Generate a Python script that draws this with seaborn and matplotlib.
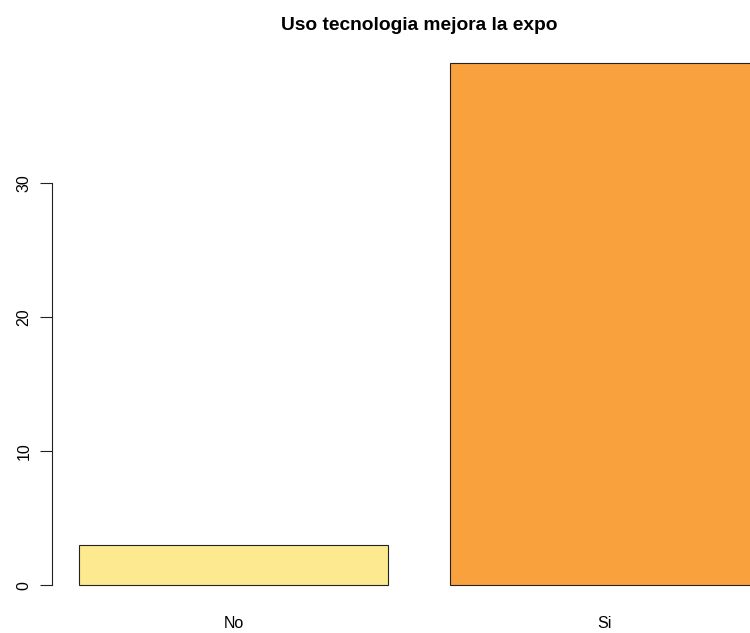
import matplotlib
matplotlib.use("Agg")
import matplotlib.pyplot as plt
import seaborn as sns
import pandas as pd

categories = ["No", "Si"]
counts = [3, 39]
bar_colors = ["#FDE98F", "#F9A23D"]
title = "Uso tecnologia mejora la expo"
y_ticks = [0, 10, 20, 30]

sns.set_style("white")
plt.rcParams["font.family"] = ["Liberation Sans", "DejaVu Sans"]
plt.rcParams["text.color"] = "black"
plt.rcParams["xtick.color"] = "black"
plt.rcParams["ytick.color"] = "black"

df = pd.DataFrame({"respuesta": categories, "n": counts})

fig = plt.figure(figsize=(7.5, 6.33), dpi=100)
ax = fig.add_axes([0.0689, 0.042, 0.979, 0.8923])

sns.barplot(data=df, x="respuesta", y="n", hue="respuesta",
            palette=bar_colors, width=1 / 1.2, edgecolor="#222222",
            linewidth=0.8, saturation=1, legend=False, ax=ax)

ax.set_xlim(-0.49, 1.49)
ax.set_ylim(-1.56, 40.56)
ax.set_xlabel("")
ax.set_ylabel("")

for side in ["top", "right", "bottom"]:
    ax.spines[side].set_visible(False)
ax.spines["left"].set_bounds(0, 30)
ax.spines["left"].set_color("#222222")
ax.spines["left"].set_linewidth(0.8)

ax.set_yticks(y_ticks)
ax.set_yticklabels([str(t) for t in y_ticks], rotation=90, va="center",
                   fontsize=11.5, color="black")
ax.tick_params(axis="y", left=True, length=8.6, width=0.8, color="#222222",
               pad=6)
ax.set_xticks([0, 1])
ax.set_xticklabels(categories, fontsize=11.5, color="black")
ax.tick_params(axis="x", bottom=False, length=0, pad=7)

ax.set_title(title, fontsize=13.8, fontweight="bold", pad=8, color="black")

fig.savefig("out.png", dpi=100)
